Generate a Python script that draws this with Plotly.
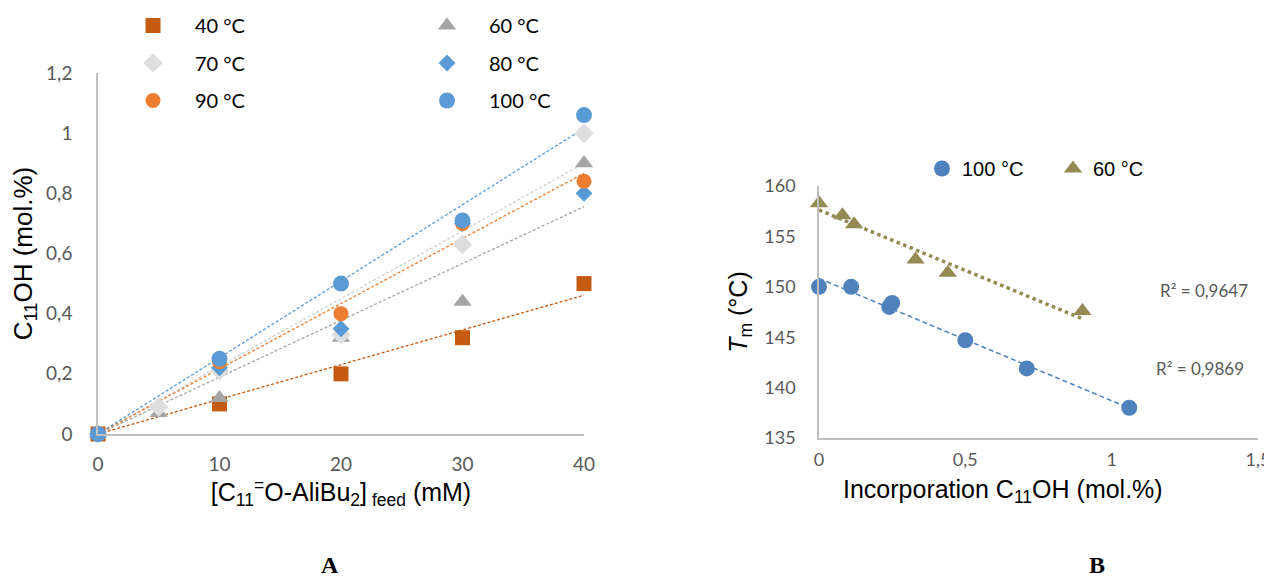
import numpy as np
import plotly.graph_objects as go

# ---------------- Panel A data ----------------
feed_40 = [0, 10, 20, 30, 40]
c11oh_40 = [0, 0.10, 0.20, 0.32, 0.50]
feed_60 = [0, 5, 10, 20, 30, 40]
c11oh_60 = [0, 0.07, 0.12, 0.32, 0.44, 0.90]
feed_70 = [0, 5, 10, 20, 30, 40]
c11oh_70 = [0, 0.09, 0.21, 0.33, 0.63, 1.00]
feed_80 = [0, 10, 20, 30, 40]
c11oh_80 = [0, 0.22, 0.35, 0.70, 0.80]
feed_90 = [0, 10, 20, 30, 40]
c11oh_90 = [0, 0.24, 0.40, 0.70, 0.84]
feed_100 = [0, 10, 20, 30, 40]
c11oh_100 = [0, 0.25, 0.50, 0.71, 1.06]
labels_A = ["40 °C", "60 °C", "70 °C", "80 °C", "90 °C", "100 °C"]

# ---------------- Panel B data ----------------
inc_100 = [0, 0.11, 0.24, 0.25, 0.50, 0.71, 1.06]
tm_100 = [150.0, 150.0, 148.0, 148.4, 144.7, 141.9, 138.0]
inc_60 = [0, 0.08, 0.12, 0.33, 0.44, 0.90]
tm_60 = [158.3, 157.1, 156.2, 152.7, 151.4, 147.6]
r2_60 = "R² = 0,9647"
r2_100 = "R² = 0,9869"

W, H = 1272, 577
OFF = 8  # page body margin
def px(x):
    return (x - OFF) / W
def py(y):
    return 1 - (y - OFF) / H

CAL = "Lato, 'Open Sans', sans-serif"
ARIAL = "'Liberation Sans', Arial, sans-serif"
GRAY = "#595959"

fig = go.Figure()

series = [
    (feed_40, c11oh_40, labels_A[0], "square", "#C55A11", 15, True, "legend"),
    (feed_60, c11oh_60, labels_A[1], "triangle-up", "#A5A5A5", 16, True, "legend2"),
    (feed_70, c11oh_70, labels_A[2], "diamond", "#DEDEDE", 15, True, "legend"),
    (feed_80, c11oh_80, labels_A[3], "diamond", "#5B9BD5", 13, False, "legend2"),
    (feed_90, c11oh_90, labels_A[4], "circle", "#ED7D31", 15, True, "legend"),
    (feed_100, c11oh_100, labels_A[5], "circle", "#5B9BD5", 16, True, "legend2"),
]
line_cols = {"40 °C": "#C55A11", "60 °C": "#A5A5A5", "70 °C": "#D0D0D0",
             "90 °C": "#ED7D31", "100 °C": "#5B9BD5"}

# trendlines (linear through origin) for panel A
for xs, ys, name, sym, col, sz, trend, lg in series:
    if trend:
        x = np.array(xs, float); y = np.array(ys, float)
        k = (x * y).sum() / (x * x).sum()
        xe = np.array([0, max(xs)])
        fig.add_trace(go.Scatter(x=xe, y=k * xe, mode="lines", showlegend=False,
                                 line=dict(color=line_cols[name], width=1.3, dash="3px,2px"),
                                 xaxis="x", yaxis="y", hoverinfo="skip"))

for i, (xs, ys, name, sym, col, sz, trend, lg) in enumerate(series):
    fig.add_trace(go.Scatter(x=xs, y=ys, mode="markers", name=name, legend=lg,
                             legendgroup="g%d" % i,
                             marker=dict(symbol=sym, color=col, size=sz, line=dict(width=0)),
                             cliponaxis=False, xaxis="x", yaxis="y"))

# ---------------- Panel B ----------------
for xs, ys, col, dash, wid in [(inc_100, tm_100, "#4F81BD", "5px,3px", 1.5),
                              (inc_60, tm_60, "#948A54", "dot", 3.5)]:
    a, b = np.polyfit(xs, ys, 1)
    xe = np.array([0, max(xs)])
    fig.add_trace(go.Scatter(x=xe, y=a * xe + b, mode="lines", showlegend=False,
                             line=dict(color=col, width=wid, dash=dash),
                             xaxis="x2", yaxis="y2", hoverinfo="skip"))

fig.add_trace(go.Scatter(x=inc_100, y=tm_100, mode="markers", name="100 °C", legend="legend3",
                         marker=dict(symbol="circle", color="#4F81BD", size=16),
                         cliponaxis=False, xaxis="x2", yaxis="y2"))
fig.add_trace(go.Scatter(x=inc_60, y=tm_60, mode="markers", name="60 °C", legend="legend3",
                         marker=dict(symbol="triangle-up", color="#948A54", size=16),
                         cliponaxis=False, xaxis="x2", yaxis="y2"))

axis_common = dict(showline=True, linecolor="#BFBFBF", linewidth=1.5, showgrid=False,
                   zeroline=False, ticks="", tickfont=dict(family=CAL, size=19, color=GRAY))

fig.update_layout(
    width=W, height=H, autosize=False,
    margin=dict(l=0, r=0, t=0, b=0, autoexpand=False),
    paper_bgcolor="white", plot_bgcolor="rgba(0,0,0,0)",
    separators=", ",
    xaxis=dict(axis_common, domain=[px(98), px(584)], range=[0, 40], dtick=10,
               anchor="y", ticklabelstandoff=12,
               title=dict(text="[C<sub>11</sub><sup>=</sup>O-AliBu<sub>2</sub>]<sub> feed</sub> (mM)",
                          font=dict(family=ARIAL, size=25, color="black"), standoff=0)),
    yaxis=dict(axis_common, domain=[py(434), py(73)], range=[0, 1.2], dtick=0.2,
               anchor="x", ticklabelstandoff=20,
               title=dict(text="C<sub>11</sub>OH (mol.%)",
                          font=dict(family=ARIAL, size=26, color="black"), standoff=7)),
    xaxis2=dict(axis_common, domain=[px(819), px(1258)], range=[0, 1.5], dtick=0.5,
                anchor="y2", ticklabelstandoff=5,
                tickfont=dict(family=CAL, size=18, color=GRAY)),
    yaxis2=dict(axis_common, domain=[py(438), py(186)], range=[135, 160], dtick=5,
                anchor="x2", ticklabelstandoff=18,
                tickfont=dict(family=CAL, size=18, color=GRAY),
                title=dict(text="<i>T</i><sub>m</sub> (°C)",
                           font=dict(family=ARIAL, size=25, color="black"), standoff=10)),
    legend=dict(x=px(111), y=py(6), xanchor="left", yanchor="top", orientation="v",
                bgcolor="rgba(0,0,0,0)", itemwidth=74, tracegroupgap=8.5,
                font=dict(family=CAL, size=20, color="black")),
    legend2=dict(x=px(405), y=py(6), xanchor="left", yanchor="top", orientation="v",
                 bgcolor="rgba(0,0,0,0)", itemwidth=74, tracegroupgap=8.5,
                 font=dict(family=CAL, size=20, color="black")),
    legend3=dict(x=px(922), y=py(149), xanchor="left", yanchor="top", orientation="h",
                 bgcolor="rgba(0,0,0,0)", itemwidth=30, entrywidth=86,
                 font=dict(family=ARIAL, size=20, color="black")),
    annotations=[
        dict(text="Incorporation C<sub>11</sub>OH (mol.%)", x=px(1003), y=py(491),
             xref="paper", yref="paper", xanchor="center", yanchor="middle", showarrow=False,
             font=dict(family=ARIAL, size=25, color="black")),
        dict(text=r2_60, x=px(1250), y=py(290), xref="paper", yref="paper",
             xanchor="right", yanchor="middle", showarrow=False,
             font=dict(family=CAL, size=17, color=GRAY)),
        dict(text=r2_100, x=px(1246), y=py(368), xref="paper", yref="paper",
             xanchor="right", yanchor="middle", showarrow=False,
             font=dict(family=CAL, size=17, color=GRAY)),
        dict(text="<b>A</b>", x=px(330), y=py(565), xref="paper", yref="paper",
             xanchor="center", yanchor="middle", showarrow=False,
             font=dict(family="'Liberation Serif', 'Times New Roman', serif", size=24, color="black")),
        dict(text="<b>B</b>", x=px(1097), y=py(565), xref="paper", yref="paper",
             xanchor="center", yanchor="middle", showarrow=False,
             font=dict(family="'Liberation Serif', 'Times New Roman', serif", size=24, color="black")),
    ],
)

fig.write_html("out.html")
